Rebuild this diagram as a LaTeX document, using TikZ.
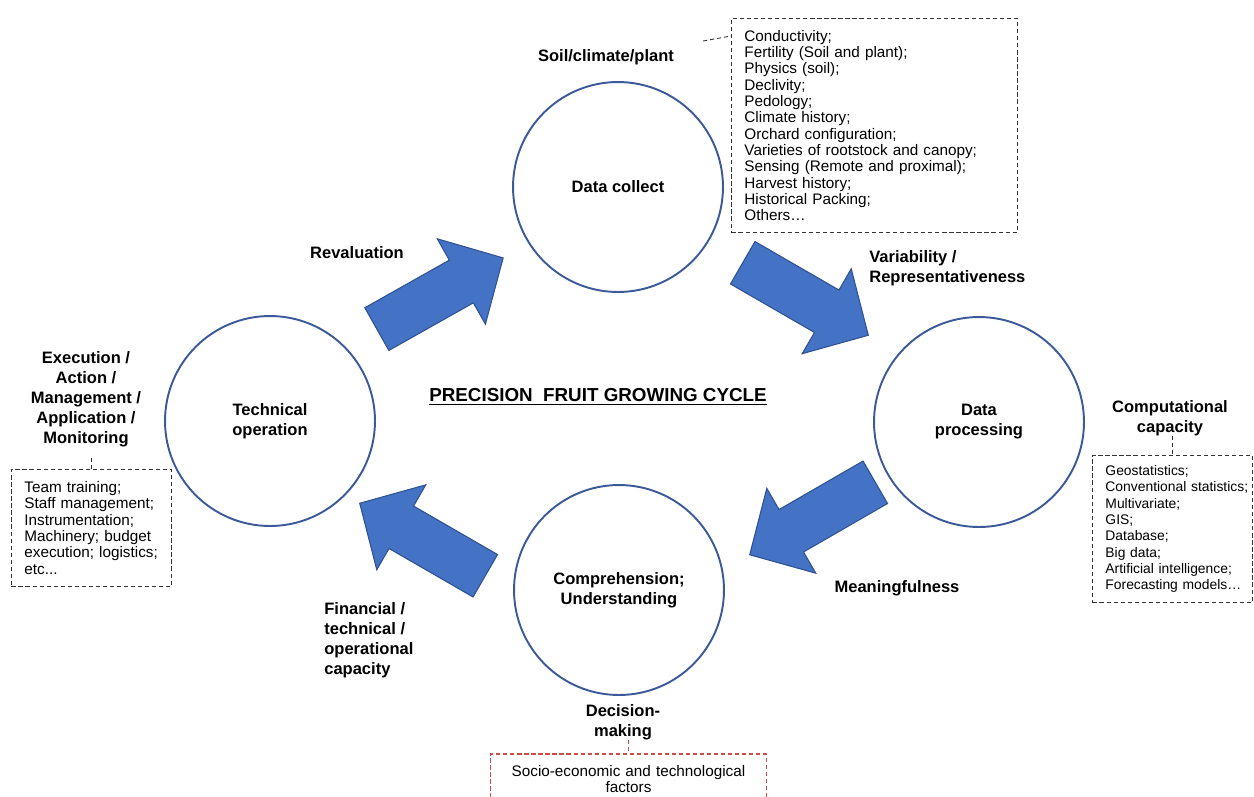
\documentclass[tikz,border=0pt]{standalone}
\usepackage{fontspec}
\setmainfont{Liberation Sans}
\usetikzlibrary{positioning}
\definecolor{ringblue}{HTML}{3C5A9A}
\definecolor{arrowblue}{HTML}{4472C4}
\definecolor{arrowline}{HTML}{2F528F}
\definecolor{socred}{HTML}{D04A4A}
\hyphenpenalty=10000
\exhyphenpenalty=10000
\begin{document}
\begin{tikzpicture}[x=0.02cm,y=-0.02cm,
stage/.style={circle,draw=ringblue,line width=1.1pt,minimum size=4.2cm,align=center,font=\fontsize{9.4}{11.4}\selectfont\bfseries},
tag/.style={inner sep=0pt,font=\fontsize{9.4}{11.4}\selectfont\bfseries},
listbox/.style={draw=black!80,dash pattern=on 2.4pt off 1.6pt,line width=0.5pt,align=left,inner xsep=0.26cm,inner ysep=0pt,font=\fontsize{8.7}{9.3}\selectfont},
leader/.style={draw=black!80,dash pattern=on 2.4pt off 1.6pt,line width=0.5pt},
reddash/.style={draw=socred,dash pattern=on 2.4pt off 1.6pt,line width=0.6pt},
bigarrow/.pic={\draw[fill=arrowblue,draw=arrowline,line width=0.6pt] (-72.5,-24.5) -- (24.5,-24.5) -- (24.5,-49) -- (72.5,0) -- (24.5,49) -- (24.5,24.5) -- (-72.5,24.5) -- cycle;}]
\useasboundingbox (0,0) rectangle (1254,796);

\node[stage] (collect) at (618,187) {Data collect};
\node[stage] (processing) at (979,422) {Data\\processing};
\node[stage] (understanding) at (619,590) {Comprehension;\\Understanding};
\node[stage] (technical) at (270,421) {Technical\\operation};

\node[font=\fontsize{10.7}{13}\selectfont\bfseries] (title) at (598,397) {\underline{PRECISION\ \ FRUIT GROWING CYCLE}};

\pic[rotate=29.4] (revalarrow) at (440,293.5) {bigarrow};
\pic[rotate=-30] (vararrow) at (805.5,299) {bigarrow};
\pic[rotate=210] (meanarrow) at (812.5,518.5) {bigarrow};
\pic[rotate=150] (finarrow) at (422.5,539.5) {bigarrow};

\node[tag] (soiltag) at (606,57) {Soil/climate/plant};
\node[tag] (revaltag) at (357,253) {Revaluation};
\node[tag,anchor=west,align=left] (vartag) at (869,268.5) {Variability /\\Representativeness};
\node[tag] (meantag) at (897,588) {Meaningfulness};
\node[tag,align=center] (exectag) at (86,399) {Execution /\\Action /\\Management /\\Application /\\Monitoring};
\node[tag,anchor=west,align=left] (fintag) at (324,640) {Financial /\\technical /\\operational\\capacity};
\node[tag,align=center] (comptag) at (1170,418) {Computational\\capacity};
\node[tag,align=center] (decisiontag) at (623,722) {Decision-\\making};

\node[listbox,anchor=north west,text width=5.2cm,minimum height=4.28cm] (collectlist) at (731,18) {Conductivity;\\Fertility (Soil and plant);\\Physics (soil);\\Declivity;\\Pedology;\\Climate history;\\Orchard configuration;\\Varieties of rootstock and canopy;\\Sensing (Remote and proximal);\\Harvest history;\\Historical Packing;\\Others\dots};
\node[listbox,anchor=north west,text width=2.68cm,minimum height=2.34cm] (execlist) at (11,469) {Team training;\\Staff~management;\\Instrumentation;\\Machinery;~budget\\execution;~logistics;\\etc...};
\node[listbox,anchor=north west,text width=2.68cm,minimum height=2.94cm,font=\fontsize{7.9}{9.3}\selectfont] (complist) at (1092,455) {Geostatistics;\\Conventional~statistics;\\Multivariate;\\GIS;\\Database;\\Big~data;\\Artificial~intelligence;\\Forecasting~models\dots};
\node[font=\fontsize{8.7}{9.3}\selectfont,align=center,anchor=north,text width=4.98cm,inner xsep=0.26cm,inner ysep=0pt,minimum height=1cm] (sociolist) at (628.5,754) {Socio-economic and technological\\factors};

\coordinate (soilend) at (703,41);
\draw[leader] (soilend) -- ([yshift=-0.36cm]collectlist.north west);
\draw[leader] (execlist.north) -- ++(0,-12);
\draw[leader] (comptag.south -| complist.north) -- (complist.north);
\draw[reddash] (decisiontag.south -| sociolist.north) -- (sociolist.north);
\draw[reddash] (sociolist.south west) |- (sociolist.north east) -- (sociolist.south east);
\end{tikzpicture}
\end{document}
